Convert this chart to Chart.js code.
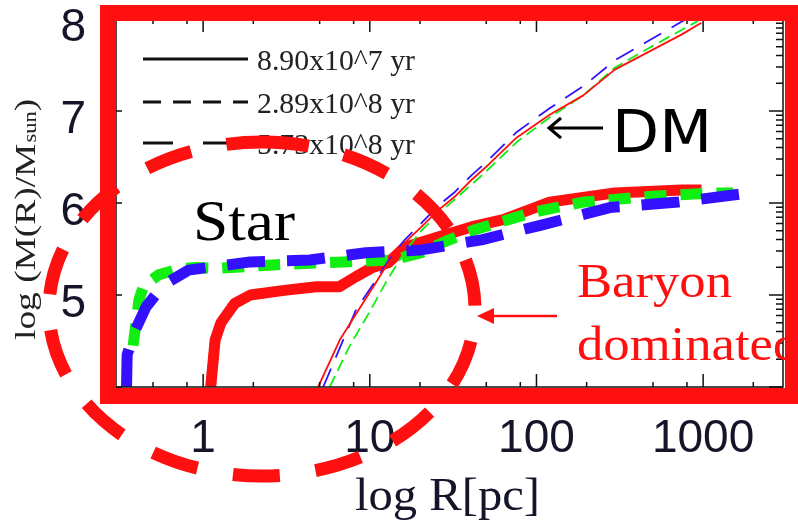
<!DOCTYPE html>
<html>
<head>
<meta charset="utf-8">
<script src="https://cdn.jsdelivr.net/npm/chart.js@4/dist/chart.umd.min.js"></script>
<style>
html, body { margin: 0; padding: 0; background: #fff; }
#wrap { width: 798px; height: 527px; }
</style>
</head>
<body>
<div id="wrap"><canvas id="massChart" width="798" height="527"></canvas></div>
<script>
// enclosed mass profile: R in pc, mass as log10(M/Msun)

// dark matter (thin lines)
const dmRadius1 = [4.9, 6.6, 8.3, 10.5, 12.9, 16.2, 20.4, 25.7, 32.4, 40.7, 49.0, 75.9, 120, 191, 295, 468, 741, 977];
const dmMass1   = [4.0, 4.51, 4.80, 5.09, 5.35, 5.57, 5.74, 5.92, 6.07, 6.25, 6.38, 6.71, 6.96, 7.17, 7.45, 7.64, 7.83, 7.96];
const dmRadius2 = [5.75, 7.59, 10, 12.6, 16.2, 20.4, 25.7, 32.4, 40.7, 49.0, 75.9, 120, 191, 295, 468, 741, 933];
const dmMass2   = [4.0, 4.45, 4.82, 5.15, 5.47, 5.70, 5.88, 6.04, 6.20, 6.33, 6.66, 6.93, 7.17, 7.47, 7.68, 7.88, 7.98];
const dmRadius3 = [5.25, 8.32, 10.5, 12.9, 16.2, 20.4, 25.7, 32.4, 40.7, 49.0, 75.9, 120, 191, 295, 468, 741, 891];
const dmMass3   = [4.0, 4.85, 5.12, 5.37, 5.60, 5.78, 5.97, 6.12, 6.30, 6.43, 6.77, 7.03, 7.27, 7.55, 7.76, 7.97, 8.05];

// baryons (thick lines)
const bRadius1 = [1.11, 1.18, 1.28, 1.55, 1.92, 3.06, 4.79, 6.56, 8.26, 10.4, 12.9, 16.2, 25.7, 40.7, 63.1, 120, 295, 741, 977];
const bMass1   = [4.0, 4.51, 4.70, 4.91, 5.00, 5.05, 5.09, 5.09, 5.20, 5.30, 5.35, 5.52, 5.63, 5.74, 5.82, 6.01, 6.11, 6.14, 6.14];
const bRadius2 = [0.380, 0.412, 0.440, 0.542, 0.70, 0.90, 1.23, 2.78, 6.92, 13.7, 20.4, 28.2, 42.7, 95.5, 191, 468, 1175, 1514];
const bMass2   = [4.45, 4.95, 5.10, 5.22, 5.28, 5.30, 5.29, 5.33, 5.36, 5.38, 5.46, 5.58, 5.71, 5.90, 6.01, 6.07, 6.11, 6.11];
const bRadius3 = [0.347, 0.350, 0.385, 0.454, 0.579, 0.815, 1.92, 4.37, 9.46, 20.4, 46.8, 107, 275, 708, 1905];
const bMass3   = [4.0, 4.35, 4.59, 4.87, 5.11, 5.27, 5.36, 5.38, 5.46, 5.49, 5.60, 5.76, 5.95, 6.01, 6.11];

const xTickValues = [1, 10, 100, 1000];
const yTickValues = [5, 6, 7, 8];
const legendLabels = ['8.90x10^7 yr', '2.89x10^8 yr', '5.73x10^8 yr'];

const RED = '#ff1010';
const GREEN = '#11ee11';
const BLUE = '#3311ff';

function pts(rs, ms) {
    return rs.map((r, i) => ({ x: r, y: ms[i] }));
}

function line(data, color, width, dash, order) {
    return {
        data: data,
        borderColor: color,
        borderWidth: width,
        borderDash: dash,
        borderCapStyle: 'butt',
        borderJoinStyle: 'round',
        pointRadius: 0,
        showLine: true,
        tension: 0,
        fill: false,
        clip: 0,
        order: order
    };
}

function fitText(ctx, text, x, y, font, color, width) {
    ctx.save();
    ctx.font = font;
    ctx.fillStyle = color;
    ctx.textBaseline = 'alphabetic';
    const sx = width / ctx.measureText(text).width;
    ctx.translate(x, y);
    ctx.scale(sx, 1);
    ctx.fillText(text, 0, 0);
    ctx.restore();
    return sx;
}

function scaledText(ctx, text, x, y, font, color, sx) {
    ctx.save();
    ctx.font = font;
    ctx.fillStyle = color;
    ctx.translate(x, y);
    ctx.scale(sx, 1);
    ctx.fillText(text, 0, 0);
    ctx.restore();
}

// inward ticks and box
const frameTicks = {
    id: 'frameTicks',
    afterDatasetsDraw(chart) {
        const { ctx, chartArea: a, scales: { x, y } } = chart;
        ctx.save();
        ctx.strokeStyle = '#111';
        ctx.lineWidth = 1.5;
        ctx.strokeRect(a.left, a.top, a.right - a.left, a.bottom - a.top);
        ctx.beginPath();
        for (let d = -1; d <= 3; d++) {
            for (const m of [1, 2, 5, 8]) {
                const v = m * Math.pow(10, d);
                if (v < x.min || v > x.max) continue;
                const px = x.getPixelForValue(v);
                const len = m === 1 ? 13 : 5;
                ctx.moveTo(px, a.bottom); ctx.lineTo(px, a.bottom - len);
                ctx.moveTo(px, a.top); ctx.lineTo(px, a.top + len);
            }
        }
        for (let v = 4; v <= 8; v++) {
            const py = y.getPixelForValue(v);
            ctx.moveTo(a.left, py); ctx.lineTo(a.left + 6, py);
            ctx.moveTo(a.right, py); ctx.lineTo(a.right - 14, py);
            if (v < 8) {
                for (let k = 2; k <= 9; k++) {
                    const pm = y.getPixelForValue(v + Math.log10(k));
                    ctx.moveTo(a.right, pm); ctx.lineTo(a.right - 7, pm);
                }
            }
        }
        ctx.stroke();
        ctx.restore();
    },
    afterDraw(chart) {
        const ctx = chart.ctx;
        ctx.save();

        // legend inside the plot
        const dashes = [[], [18, 12], [30, 30]];
        const rows = [59, 102, 143];
        ctx.strokeStyle = '#111';
        ctx.lineWidth = 3;
        rows.forEach((ry, i) => {
            ctx.setLineDash(dashes[i]);
            ctx.beginPath();
            ctx.moveTo(143, ry); ctx.lineTo(248, ry);
            ctx.stroke();
            fitText(ctx, legendLabels[i], 257, ry + 11, '29px "Liberation Serif"', '#222', 158);
        });
        ctx.setLineDash([]);

        // axis titles
        fitText(ctx, 'log R[pc]', 355, 510, '47px "Liberation Serif"', '#15152a', 185);
        ctx.save();
        ctx.translate(35, 340);
        ctx.rotate(-Math.PI / 2);
        ctx.font = '30px "Liberation Serif"';
        const p1 = 'log (M(R)/M';
        const w1 = ctx.measureText(p1).width;
        ctx.font = '18px "Liberation Serif"';
        const w2 = ctx.measureText('sun').width;
        ctx.font = '30px "Liberation Serif"';
        const w3 = ctx.measureText(')').width;
        ctx.scale(240 / (w1 + w2 + w3), 1);
        ctx.fillStyle = '#222';
        ctx.fillText(p1, 0, 0);
        ctx.font = '18px "Liberation Serif"';
        ctx.fillText('sun', w1 + 1, 1);
        ctx.font = '30px "Liberation Serif"';
        ctx.fillText(')', w1 + w2 + 1, 0);
        ctx.restore();

        // annotations
        fitText(ctx, 'Star', 193, 240, '58px "Liberation Serif"', '#000', 102);
        fitText(ctx, 'DM', 612, 152, '58px "DejaVu Sans"', '#000', 100);
        ctx.strokeStyle = '#000';
        ctx.lineWidth = 3;
        ctx.beginPath();
        ctx.moveTo(603, 128); ctx.lineTo(550, 128);
        ctx.moveTo(561, 118); ctx.lineTo(549, 128); ctx.lineTo(561, 138);
        ctx.stroke();

        const sx = fitText(ctx, 'Baryon', 577, 297, '48px "Liberation Serif"', RED, 155);
        scaledText(ctx, 'dominated', 577, 360, '48px "Liberation Serif"', RED, sx);
        ctx.strokeStyle = RED;
        ctx.fillStyle = RED;
        ctx.lineWidth = 2.5;
        ctx.beginPath();
        ctx.moveTo(557, 316); ctx.lineTo(490, 316);
        ctx.stroke();
        ctx.beginPath();
        ctx.moveTo(477, 316); ctx.lineTo(494, 308); ctx.lineTo(494, 324);
        ctx.closePath();
        ctx.fill();

        // highlight box
        ctx.lineWidth = 16;
        ctx.strokeRect(108, 13, 685, 383);

        // dashed ellipse around the star region
        ctx.lineWidth = 13;
        ctx.setLineDash([47, 36]);
        ctx.beginPath();
        ctx.ellipse(262, 309, 213, 167, 0, -Math.PI / 2, 1.5 * Math.PI);
        ctx.stroke();
        ctx.restore();
    }
};

const tickFont = { family: '"Liberation Sans"', size: 46 };

new Chart(document.getElementById('massChart').getContext('2d'), {
    type: 'scatter',
    data: {
        datasets: [
            line(pts(dmRadius1, dmMass1), RED, 1.8, [], 1),
            line(pts(dmRadius2, dmMass2), GREEN, 1.8, [12, 6], 2),
            line(pts(dmRadius3, dmMass3), BLUE, 1.8, [20, 12], 3),
            line(pts(bRadius3, bMass3), BLUE, 11, [38, 22], 4),
            line(pts(bRadius2, bMass2), GREEN, 11, [22, 14], 5),
            line(pts(bRadius1, bMass1), RED, 11, [], 6)
        ]
    },
    options: {
        responsive: false,
        animation: false,
        devicePixelRatio: 1,
        events: [],
        layout: { padding: { top: 19, right: 15, left: 0, bottom: 0 } },
        plugins: { legend: { display: false }, tooltip: { enabled: false } },
        scales: {
            x: {
                type: 'logarithmic',
                min: 0.34,
                max: 3015,
                grid: { display: false, drawTicks: false, tickLength: 0 },
                border: { display: false },
                afterBuildTicks: s => { s.ticks = xTickValues.map(v => ({ value: v })); },
                afterFit: s => { s.height = 140; s.paddingLeft = 0; s.paddingRight = 0; },
                ticks: {
                    font: tickFont,
                    color: '#15152a',
                    padding: 25,
                    autoSkip: false,
                    maxRotation: 0,
                    callback: v => String(v)
                }
            },
            y: {
                min: 4,
                max: 8,
                grid: { display: false, drawTicks: false, tickLength: 0 },
                border: { display: false },
                afterBuildTicks: s => { s.ticks = yTickValues.map(v => ({ value: v })); },
                afterFit: s => { s.width = 116; s.paddingTop = 0; s.paddingBottom = 0; },
                ticks: {
                    font: tickFont,
                    color: '#15152a',
                    padding: 30,
                    labelOffset: 9,
                    callback: v => String(v)
                }
            }
        }
    },
    plugins: [frameTicks]
});
</script>
</body>
</html>
